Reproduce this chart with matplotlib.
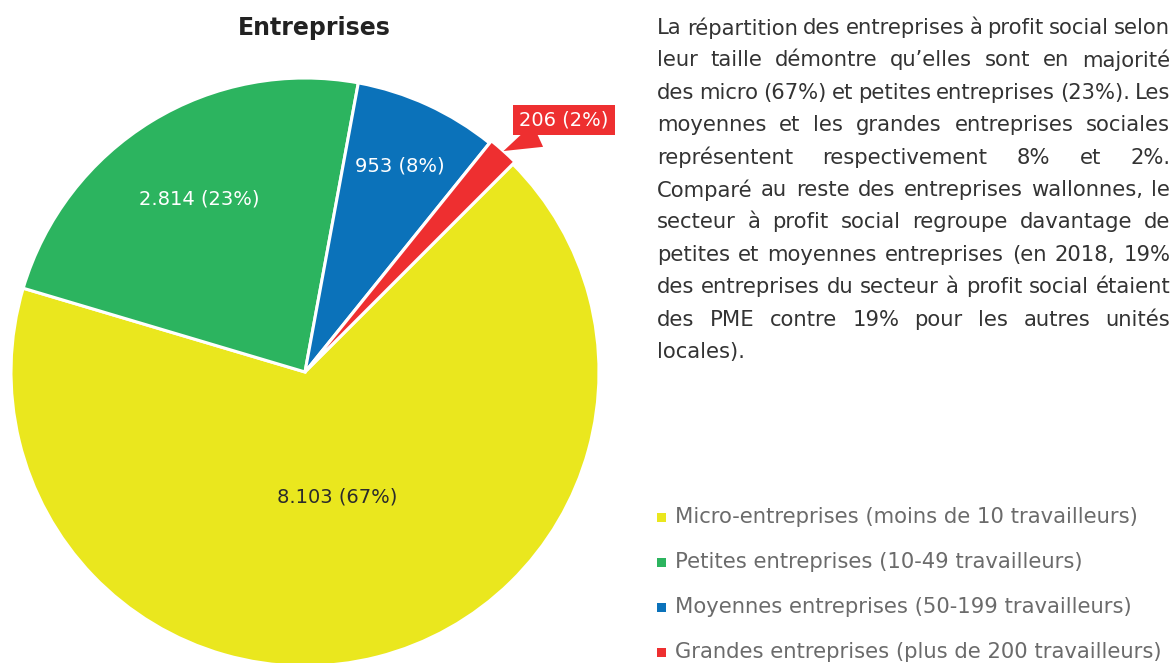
import numpy as np
import matplotlib
matplotlib.use("Agg")
import matplotlib.pyplot as plt

# données
categories = ["Micro-entreprises (moins de 10 travailleurs)",
              "Petites entreprises (10-49 travailleurs)",
              "Moyennes entreprises (50-199 travailleurs)",
              "Grandes entreprises (plus de 200 travailleurs)"]
valeurs = [8103, 2814, 953, 206]
etiquettes = ["8.103 (67%)", "2.814 (23%)", "953 (8%)", "206 (2%)"]
couleurs = ["#EAE71E", "#2CB45F", "#0B72BA", "#EE2F30"]

paragraphe = [
    "La répartition des entreprises à profit social selon",
    "leur taille démontre qu’elles sont en majorité",
    "des micro (67%) et petites entreprises (23%). Les",
    "moyennes et les grandes entreprises sociales",
    "représentent respectivement 8% et 2%.",
    "Comparé au reste des entreprises wallonnes, le",
    "secteur à profit social regroupe davantage de",
    "petites et moyennes entreprises (en 2018, 19%",
    "des entreprises du secteur à profit social étaient",
    "des PME contre 19% pour les autres unités",
    "locales).",
]

W, H = 1172, 663
plt.rcParams["font.family"] = ["DejaVu Sans"]
fig = plt.figure(figsize=(W / 100, H / 100), dpi=100)

# camembert
cx, cy, R = 305, H - 372, 294
box = 300
ax = fig.add_axes([(cx - box) / W, (cy - box) / H, 2 * box / W, 2 * box / H])
wedges, _ = ax.pie(valeurs, colors=couleurs, startangle=45, counterclock=False,
                   radius=R / box, explode=[0, 0, 0, 0.01],
                   wedgeprops=dict(edgecolor="white", linewidth=2.2))
ax.set_xlim(-1, 1)
ax.set_ylim(-1, 1)
ax.axis("off")

dist = [0.44, 0.69, 0.77]
tcol = ["#2b2b2b", "white", "white"]
for w, lab, d, c in zip(wedges[:3], etiquettes[:3], dist, tcol):
    a = np.deg2rad((w.theta1 + w.theta2) / 2)
    ax.text(d * w.r * np.cos(a), d * w.r * np.sin(a), lab, ha="center",
            va="center", fontsize=14, color=c)

# étiquette de la petite part (bulle rouge)
w = wedges[3]
a = np.deg2rad((w.theta1 + w.theta2) / 2)
tip = (w.r * np.cos(a) + w.center[0], w.r * np.sin(a) + w.center[1])
ax.annotate(etiquettes[3], xy=tip, xycoords="data",
            xytext=((564 - cx) / box, (H - 120 - cy) / box), textcoords="data",
            ha="center", va="center", fontsize=14, color="white",
            bbox=dict(boxstyle="square,pad=0.3", fc=couleurs[3], ec="none"),
            arrowprops=dict(arrowstyle="wedge,tail_width=1.3,shrink_factor=0.5",
                            fc=couleurs[3], ec="none", relpos=(0.35, 0.0),
                            shrinkA=0, shrinkB=0))

fig.text(314 / W, 1 - 28 / H, "Entreprises", ha="center", va="center",
         fontsize=17, fontweight="bold", color="#222222")

# texte justifié (la colonne dépasse le bord droit de l'image)
x0 = 657
fs = 15.2
fig.canvas.draw()
rend = fig.canvas.get_renderer()
lignes = []
for i, ligne in enumerate(paragraphe):
    y = 1 - (28 + i * 32.4) / H
    objs = [fig.text(0, y, m, ha="left", va="center", fontsize=fs, color="#333333")
            for m in ligne.split(" ")]
    larg = [o.get_window_extent(rend).width for o in objs]
    lignes.append((objs, larg))
# largeur de colonne = ligne la plus serrée
x1 = x0 + max(sum(l) + 5 * (len(l) - 1) for _, l in lignes)
for i, (objs, larg) in enumerate(lignes):
    if i == len(lignes) - 1:
        gap = 6
    else:
        gap = (x1 - x0 - sum(larg)) / (len(objs) - 1)
    x = x0
    for o, l in zip(objs, larg):
        o.set_x(x / W)
        x += l + gap

# légende
for i, (cat, col) in enumerate(zip(categories, couleurs)):
    y = 1 - (517 + i * 45) / H
    fig.patches.append(plt.Rectangle((657 / W, y - 4.5 / H), 9 / W, 9 / H,
                                     transform=fig.transFigure, fc=col, ec="none"))
    fig.text(675 / W, y, cat, ha="left", va="center", fontsize=fs, color="#6b6b6b")

fig.savefig("out.png", dpi=100, facecolor="white")
